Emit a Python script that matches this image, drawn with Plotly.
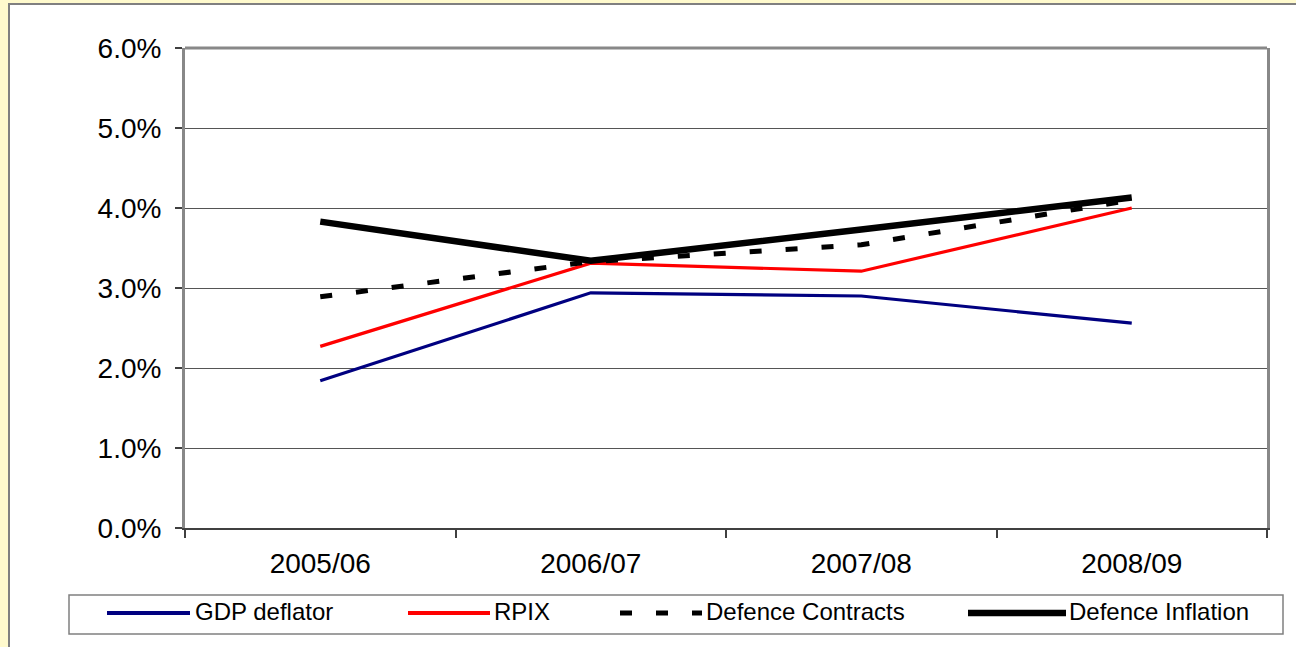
import plotly.graph_objects as go

# Annual inflation measures, per cent
years = ["2005/06", "2006/07", "2007/08", "2008/09"]
gdp_deflator = [1.84, 2.94, 2.90, 2.56]
rpix = [2.27, 3.31, 3.21, 4.00]
defence_contracts = [2.89, 3.33, 3.54, 4.10]
defence_inflation = [3.83, 3.34, 3.73, 4.13]

series_names = ["GDP deflator", "RPIX", "Defence Contracts", "Defence Inflation"]
series_values = [gdp_deflator, rpix, defence_contracts, defence_inflation]
series_colors = ["#000080", "#FF0000", "#000000", "#000000"]
series_widths = [3.2, 3.2, 5, 6.5]
legend_widths = [4, 4, 5, 6.5]
series_dash = ["solid", "solid", "12px,24px", "solid"]

W, H = 1296, 647
ML, MR, MT, MB = 185, 29, 48, 119
PW, PH = W - ML - MR, H - MT - MB
FONT = "Arial, Liberation Sans, sans-serif"


def px_x(x):
    return (x - ML) / PW


def px_y(y):
    return (H - MB - y) / PH


fig = go.Figure()
for name, vals, col, wid, dash in zip(series_names, series_values,
                                      series_colors, series_widths, series_dash):
    fig.add_trace(go.Scatter(
        x=years, y=[v / 100 for v in vals], name=name, mode="lines",
        line=dict(color=col, width=wid, dash=dash), showlegend=False,
    ))

shapes = [
    # white chart panel on the pale yellow page
    dict(type="rect", xref="paper", yref="paper", layer="below",
         x0=px_x(9), x1=px_x(W + 10), y0=px_y(H + 10), y1=px_y(4),
         fillcolor="white", line=dict(color="#808080", width=2)),
    # top edge of the plot frame
    dict(type="line", xref="paper", yref="paper", x0=0, x1=1, y0=1, y1=1,
         line=dict(color="#888888", width=3)),
    # legend box
    dict(type="rect", xref="paper", yref="paper",
         x0=px_x(69), x1=px_x(1283), y0=px_y(634), y1=px_y(595),
         fillcolor="white", line=dict(color="#808080", width=1.5)),
]

# legend entries: (line start, line end, text start) in pixels
legend_pos = [(107, 190, 193), (408, 490, 492), (620, 702, 704), (968, 1066, 1067)]
ly = px_y(613)
annotations = []
for (x0, x1, tx), name, col, wid, dash in zip(legend_pos, series_names, series_colors,
                                              legend_widths, series_dash):
    shapes.append(dict(type="line", xref="paper", yref="paper",
                       x0=px_x(x0), x1=px_x(x1), y0=ly, y1=ly,
                       line=dict(color=col, width=wid, dash=dash)))
    annotations.append(dict(xref="paper", yref="paper", x=px_x(tx), y=px_y(611),
                            text=name, showarrow=False, xanchor="left",
                            yanchor="middle", font=dict(family=FONT, size=24, color="black")))

fig.update_layout(
    width=W, height=H,
    margin=dict(l=ML, r=MR, t=MT, b=MB, pad=0),
    paper_bgcolor="#FFFACD", plot_bgcolor="white",
    font=dict(family=FONT, size=28, color="black"),
    shapes=shapes, annotations=annotations, showlegend=False,
)
fig.update_xaxes(
    type="category", range=[-0.5, 3.5], tickson="boundaries",
    ticks="outside", ticklen=8, tickcolor="#404040", tickwidth=1.5,
    showgrid=False, showline=True, linecolor="#404040", linewidth=1.5,
    tickfont=dict(size=28), zeroline=False, ticklabelstandoff=10,
)
fig.update_yaxes(
    range=[0, 0.06], dtick=0.01, tickformat=".1%",
    ticks="outside", ticklen=7, tickcolor="#404040", tickwidth=1.5,
    showgrid=True, gridcolor="#555555", gridwidth=1,
    showline=True, linecolor="#888888", linewidth=3, mirror=True,
    tickfont=dict(size=28), zeroline=False, ticklabelstandoff=8,
)

fig.write_html("out.html")
